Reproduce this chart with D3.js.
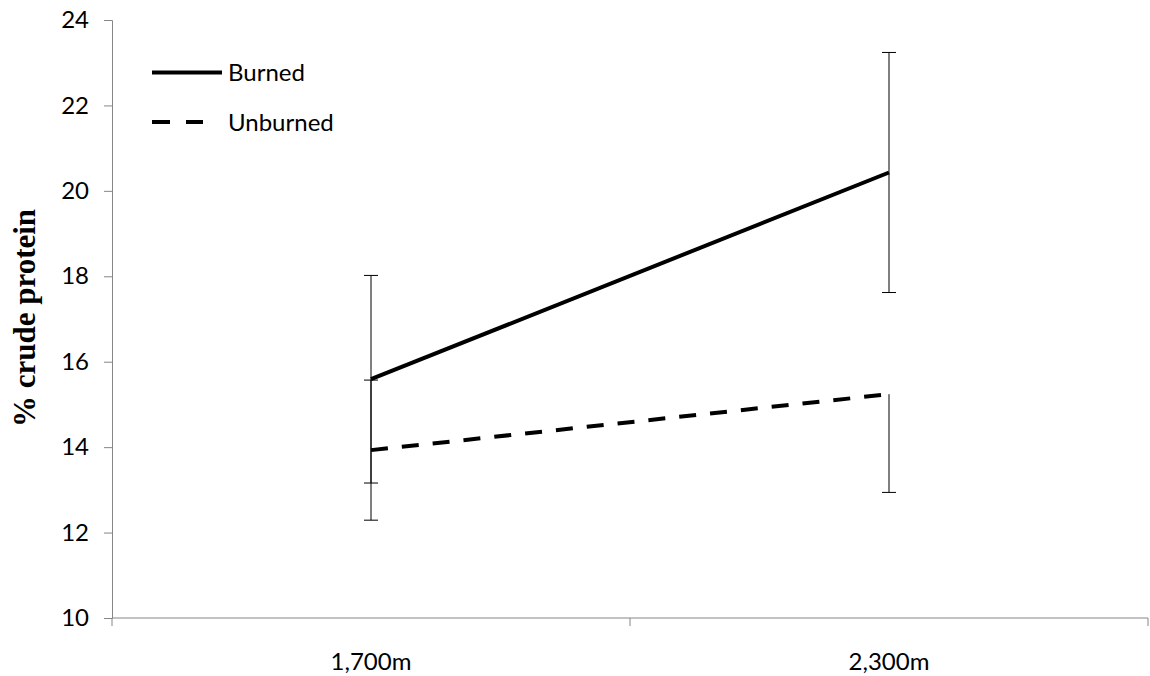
<!DOCTYPE html>
<html>
<head>
<meta charset="utf-8">
<script src="https://cdn.jsdelivr.net/npm/d3@7"></script>
<style>
  html, body { margin: 0; padding: 0; background: #fff; }
  svg { display: block; }
  text { font-family: Lato, "Open Sans", sans-serif; fill: #000; }
</style>
</head>
<body>
<svg id="chart" width="1150" height="676"></svg>
<script>
const categories = ["1,700m", "2,300m"];
const burned = [15.59, 20.43];
const burnedErrPlus = [2.43, 2.81];
const burnedErrMinus = [2.43, 2.81];
const unburned = [13.93, 15.24];
const unburnedErrPlus = [1.64, 0];
const unburnedErrMinus = [1.64, 2.3];
const yTicks = [10, 12, 14, 16, 18, 20, 22, 24];
const seriesNames = ["Burned", "Unburned"];
const yTitle = "% crude protein";

const svg = d3.select("#chart");
const axisColor = "#868686";

const x = d3.scaleBand().domain(categories).range([112, 1148]).paddingInner(0).paddingOuter(0);
const y = d3.scaleLinear().domain([10, 24]).range([618, 20]);
const cx = c => x(c) + x.bandwidth() / 2;

// Y axis
const yAxis = svg.append("g")
  .attr("transform", "translate(112,0)")
  .call(d3.axisLeft(y).tickValues(yTicks).tickSize(8).tickPadding(15).tickFormat(d3.format("d")));
yAxis.select(".domain").attr("stroke", axisColor);
yAxis.selectAll(".tick line").attr("stroke", axisColor);
yAxis.selectAll(".tick text").style("font-size", "24px").style("font-family", "Lato, sans-serif").attr("fill", "#000");

// X axis line and ticks at category boundaries
const xg = svg.append("g");
xg.append("line")
  .attr("x1", x.range()[0]).attr("x2", x.range()[1])
  .attr("y1", y(10)).attr("y2", y(10))
  .attr("stroke", axisColor);
const bounds = categories.map(c => x(c)).concat([x(categories[categories.length - 1]) + x.bandwidth()]);
xg.selectAll(".xt").data(bounds).enter().append("line")
  .attr("x1", d => d).attr("x2", d => d)
  .attr("y1", y(10)).attr("y2", y(10) + 8)
  .attr("stroke", axisColor);
xg.selectAll(".xl").data(categories).enter().append("text")
  .attr("x", d => cx(d)).attr("y", 670)
  .attr("text-anchor", "middle")
  .style("font-size", "24px")
  .text(d => d);

// Y title
svg.append("text")
  .attr("transform", "translate(35,318) rotate(-90)")
  .attr("text-anchor", "middle")
  .style("font-family", "'Liberation Serif', 'Times New Roman', serif")
  .style("font-weight", "bold")
  .style("font-size", "31px")
  .text(yTitle);

// Error bars
function errorBars(vals, plus, minus) {
  const g = svg.append("g").attr("stroke", "#000").attr("stroke-width", 1);
  categories.forEach((c, i) => {
    const xc = cx(c);
    const top = y(vals[i] + plus[i]);
    const bot = y(vals[i] - minus[i]);
    g.append("line").attr("x1", xc).attr("x2", xc).attr("y1", top).attr("y2", bot);
    if (plus[i] > 0) g.append("line").attr("x1", xc - 7).attr("x2", xc + 7).attr("y1", top).attr("y2", top);
    if (minus[i] > 0) g.append("line").attr("x1", xc - 7).attr("x2", xc + 7).attr("y1", bot).attr("y2", bot);
  });
}
errorBars(burned, burnedErrPlus, burnedErrMinus);
errorBars(unburned, unburnedErrPlus, unburnedErrMinus);

// Lines
const line = d3.line().x((d, i) => cx(categories[i])).y(d => y(d));
svg.append("path").datum(burned).attr("d", line)
  .attr("fill", "none").attr("stroke", "#000").attr("stroke-width", 4);
svg.append("path").datum(unburned).attr("d", line)
  .attr("fill", "none").attr("stroke", "#000").attr("stroke-width", 4)
  .attr("stroke-dasharray", "17,14");

// Legend
const legend = svg.append("g");
const legendY = [72.5, 122];
legend.append("line").attr("x1", 152).attr("x2", 222).attr("y1", legendY[0]).attr("y2", legendY[0])
  .attr("stroke", "#000").attr("stroke-width", 4);
legend.append("line").attr("x1", 152).attr("x2", 203).attr("y1", legendY[1]).attr("y2", legendY[1])
  .attr("stroke", "#000").attr("stroke-width", 4).attr("stroke-dasharray", "18,16");
legend.selectAll(".lt").data(seriesNames).enter().append("text")
  .attr("x", 228).attr("y", (d, i) => legendY[i] + 8.5)
  .style("font-size", "24px")
  .text(d => d);
</script>
</body>
</html>
